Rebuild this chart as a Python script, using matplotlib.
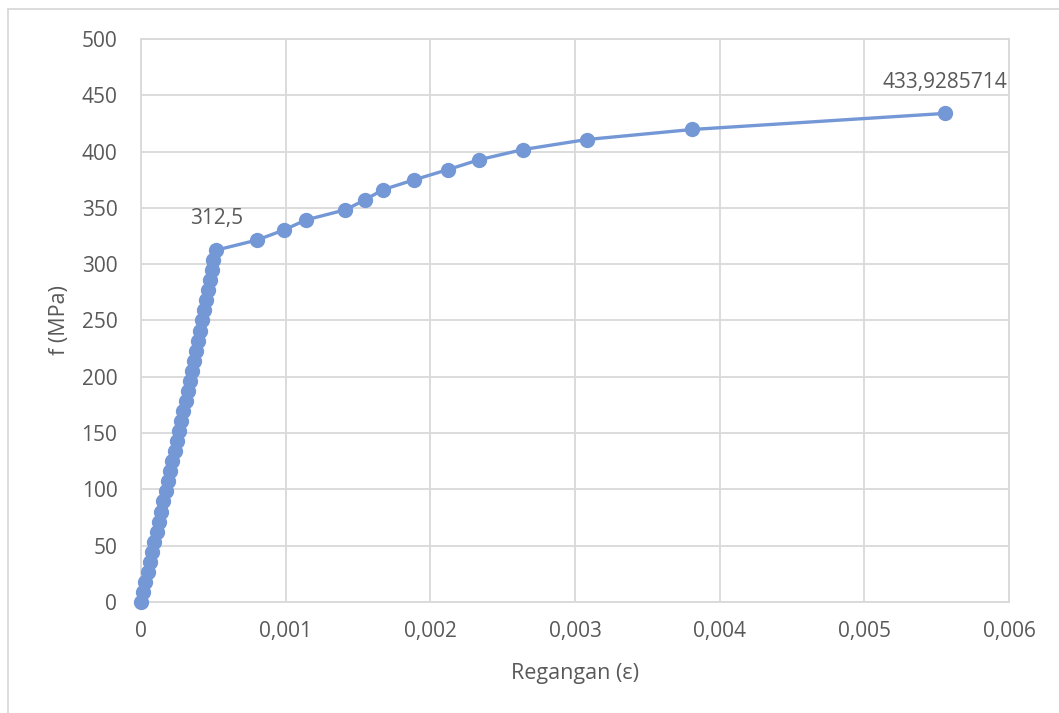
import matplotlib.pyplot as plt
from matplotlib.lines import Line2D
from matplotlib.ticker import FuncFormatter

# stress (MPa) and strain
stress = [0, 8.93, 17.86, 26.79, 35.71, 44.64, 53.57, 62.5, 71.43, 80.36,
          89.29, 98.21, 107.14, 116.07, 125, 133.93, 142.86, 151.79, 160.71,
          169.64, 178.57, 187.5, 196.43, 205.36, 214.29, 223.21, 232.14,
          241.07, 250, 258.93, 267.86, 276.79, 285.71, 294.64, 303.57, 312.5,
          321.43, 330.36, 339.29, 348.21, 357.14, 366.07, 375, 383.93,
          392.86, 401.79, 410.71, 419.64, 433.9285714]
strain = [0, 0.000016, 0.000031, 0.000046, 0.000062, 0.000077, 0.000092,
          0.000108, 0.000123, 0.000139, 0.000154, 0.00017, 0.000186,
          0.000201, 0.000217, 0.000232, 0.000248, 0.000264, 0.000279,
          0.000294, 0.000309, 0.000324, 0.000339, 0.000353, 0.000367,
          0.000381, 0.000395, 0.000409, 0.000423, 0.000437, 0.00045,
          0.000463, 0.000476, 0.000488, 0.0005, 0.00052,
          0.000802, 0.000988, 0.00114, 0.00141, 0.00155, 0.00167, 0.00189,
          0.00212, 0.00234, 0.00264, 0.00308, 0.00381, 0.00556]

x_ticks = [0, 0.001, 0.002, 0.003, 0.004, 0.005, 0.006]
y_ticks = list(range(0, 501, 50))

grey = '#595959'
grid = '#d9d9d9'
blue = '#7498d6'

plt.rcParams['font.family'] = ['Open Sans', 'DejaVu Sans']

fig = plt.figure(figsize=(10.59, 7.13), dpi=100)
ax = fig.add_axes([0.1331, 0.1557, 0.8197, 0.7896])

ax.plot(strain, stress, color=blue, lw=2.4, marker='o', markersize=10,
        markerfacecolor=blue, markeredgecolor=blue, zorder=3, clip_on=False)

ax.set_xlim(0, 0.006)
ax.set_ylim(0, 500)
ax.set_xticks(x_ticks)
ax.set_yticks(y_ticks)
ax.xaxis.set_major_formatter(FuncFormatter(lambda v, p: '0' if v == 0 else f'{v:.3f}'.replace('.', ',')))
ax.grid(True, color=grid, lw=1.3, zorder=0)
ax.tick_params(length=0, labelsize=15, labelcolor=grey)
ax.tick_params(axis='y', pad=17)
ax.tick_params(axis='x', pad=14)
for s in ax.spines.values():
    s.set_color(grid)
    s.set_linewidth(1.3)

ax.set_xlabel('Regangan (ε)', fontsize=15.5, color=grey, labelpad=15)
ax.set_ylabel('f (MPa)', fontsize=15.5, color=grey, labelpad=8)

# data labels
ax.annotate('312,5', (strain[35], stress[35]), xytext=(0, 23), textcoords='offset points',
            ha='center', va='center', fontsize=15, color=grey)
ax.annotate('433,9285714', (strain[-1], stress[-1]), xytext=(0, 22), textcoords='offset points',
            ha='center', va='center', fontsize=15, color=grey)

# chart border
fig.add_artist(Line2D([8 / 1059, 8 / 1059], [0, 1 - 9 / 713], color=grid, lw=1.3))
fig.add_artist(Line2D([8 / 1059, 1], [1 - 9 / 713, 1 - 9 / 713], color=grid, lw=1.3))

fig.savefig('out.png', dpi=100)
